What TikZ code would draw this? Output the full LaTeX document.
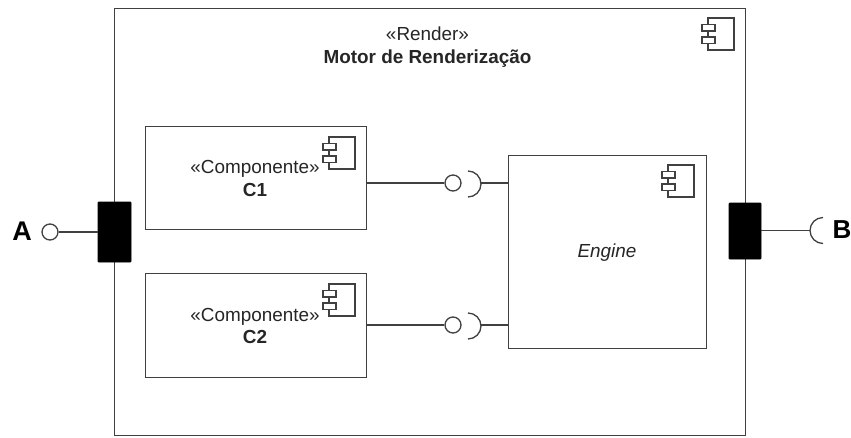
\documentclass[tikz,border=0pt]{standalone}
\usepackage{fontspec}
\setmainfont{Liberation Sans}
\tikzset{
  x=1pt,y=-1pt,
  ln/.style={draw=black!75,line width=1.3pt},
  box/.style={ln,fill=white,minimum width=#1,inner sep=0pt,anchor=north west,rectangle},
  portbox/.style={draw=black,fill=black,rounded corners=0.8pt,line width=0.8pt},
  txt/.style={font=\fontsize{18.9}{22.5}\selectfont,align=center,text=black!85},
  lollipop/.style={ln,fill=white,circle,minimum size=16pt,inner sep=0pt},
}
\newcommand{\compicon}[2]{%
  \begin{scope}[shift={(#1,#2)}]
    \draw[ln,fill=white] (6,0) rectangle (32,32);
    \draw[ln,fill=white] (0,6.5) rectangle (13,13);
    \draw[ln,fill=white] (0,19) rectangle (13,25.5);
  \end{scope}}
\begin{document}
\begin{tikzpicture}
\useasboundingbox (0,0) rectangle (851,437);
\node[box=631pt,minimum height=427pt] (outer) at (114,8) {};
\node[box=221pt,minimum height=103pt] (c1) at (145,126) {};
\node[box=221pt,minimum height=104pt] (c2) at (145,273) {};
\node[box=198pt,minimum height=193pt] (eng) at (508,155) {};
\node[portbox,minimum width=33pt,minimum height=60pt,inner sep=0pt] (pa) at (114.5,232) {};
\node[portbox,minimum width=32pt,minimum height=56pt,inner sep=0pt] (pb) at (745,231) {};
\compicon{702}{18}
\compicon{323}{284}
\compicon{323}{137}
\compicon{662}{165}
\node[txt] (t0) at (427.5,47) {«Render»\\\textbf{Motor de Renderização}};
\node[txt] (t1) at (255,178.5) {«Componente»\\\textbf{C1}};
\node[txt] (t2) at (255,326) {«Componente»\\\textbf{C2}};
\node[txt] (t3) at (607,253) {\textit{Engine}};
\node[font=\bfseries\fontsize{27}{30}\selectfont,text=black] (la) at (22,231) {A};
\node[font=\bfseries\fontsize{26}{30}\selectfont,text=black] (lb) at (842,230) {B};
\node[lollipop] (ca) at (50,232) {};
\draw[ln] (ca) -- (pa);
\coordinate (bend) at (810,230.5);
\draw[ln] (pb.east |- bend) -- (bend);
\draw[ln] (823,217.5) arc[start angle=90,end angle=270,radius=13pt];
\node[lollipop] (i1) at (453,183) {};
\node[lollipop] (i2) at (453,325) {};
\coordinate (s1) at (481,183);
\coordinate (s2) at (481,325);
\draw[ln] (c1.east |- i1) -- (i1);
\draw[ln] (c2.east |- i2) -- (i2);
\draw[ln] (s1) -- (eng.west |- s1);
\draw[ln] (s2) -- (eng.west |- s2);
\draw[ln] (468,171) arc[start angle=90,end angle=-90,radius=13pt];
\draw[ln] (468,313) arc[start angle=90,end angle=-90,radius=13pt];
\end{tikzpicture}
\end{document}
